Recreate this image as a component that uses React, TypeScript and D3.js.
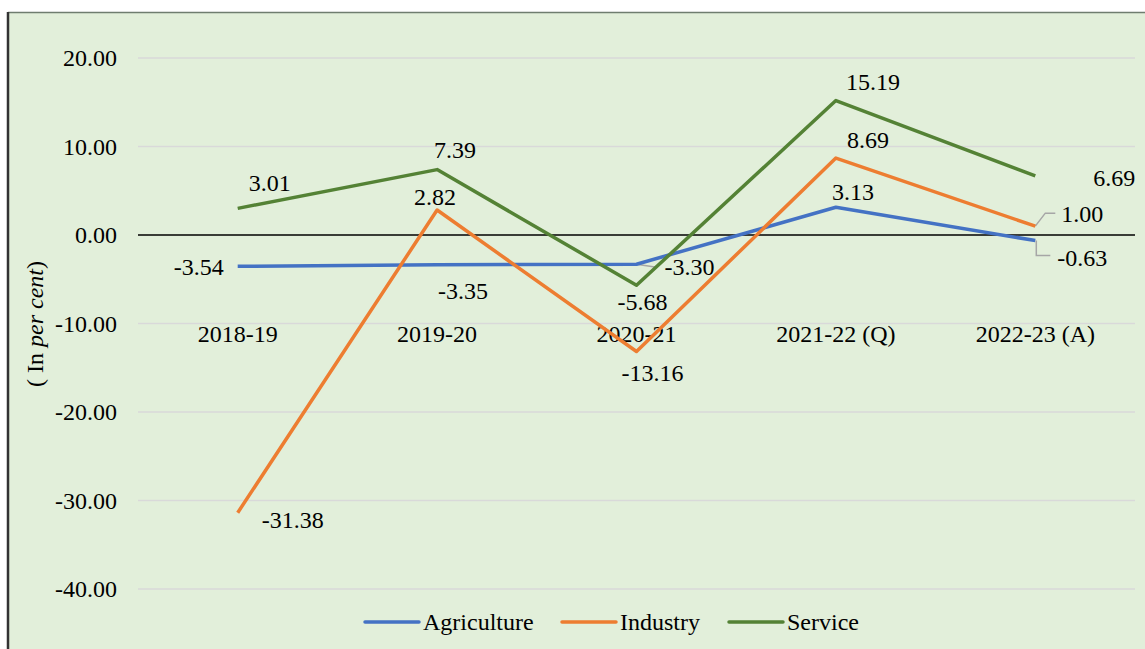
import React from "react";
import * as d3 from "d3";

const years = ["2018-19", "2019-20", "2020-21", "2021-22 (Q)", "2022-23 (A)"];
const agriculture = [-3.54, -3.35, -3.3, 3.13, -0.63];
const industry = [-31.38, 2.82, -13.16, 8.69, 1.0];
const service = [3.01, 7.39, -5.68, 15.19, 6.69];
const yTicks = [20, 10, 0, -10, -20, -30, -40];

// where each value label sits relative to its point: [dx, dy, anchor]
type Place = [number, number, string];
const agriPlace: Place[] = [
  [-14, 1, "end"],
  [26, 26, "middle"],
  [28, 3, "start"],
  [17, -15, "middle"],
  [22, 17, "start"],
];
const indPlace: Place[] = [
  [24, 7, "start"],
  [-2, -13, "middle"],
  [16, 22, "middle"],
  [32, -18, "middle"],
  [26, -12, "start"],
];
const servPlace: Place[] = [
  [32, -25, "middle"],
  [18, -20, "middle"],
  [6, 17, "middle"],
  [37, -19, "middle"],
  [58, 2, "start"],
];

const series = [
  { name: "Agriculture", values: agriculture, color: "#4472c4", place: agriPlace },
  { name: "Industry", values: industry, color: "#ed7d31", place: indPlace },
  { name: "Service", values: service, color: "#548235", place: servPlace },
];

const W = 1145;
const H = 649;
const font = "Liberation Serif";
const fs = 24;

export default function App() {
  const x = d3.scaleBand<string>().domain(years).range([138, 1135]);
  const y = d3.scaleLinear().domain([-40, 20]).range([589, 58]);
  const cx = (i: number) => (x(years[i]) as number) + x.bandwidth() / 2;

  const line = d3
    .line<number>()
    .x((_, i) => cx(i))
    .y((d) => y(d));

  // gray leader lines for the labels pulled away from their points
  const leaders: string[] = [
    `M${cx(2)},${y(agriculture[2])} L${cx(2) + 20},${y(agriculture[2]) + 3}`,
    `M${cx(4)},${y(industry[4])} L${cx(4) + 10},${y(industry[4]) - 13} L${cx(4) + 20},${y(industry[4]) - 13}`,
    `M${cx(4) + 1},${y(agriculture[4])} L${cx(4) + 1},${y(agriculture[4]) + 15} L${cx(4) + 15},${y(agriculture[4]) + 15}`,
  ];

  const legendItems = [
    { name: "Agriculture", x0: 365 },
    { name: "Industry", x0: 562 },
    { name: "Service", x0: 729 },
  ];

  return (
    <div style={{ position: "absolute", left: 0, top: 0 }}>
      <svg width={W} height={H} fontFamily={font} style={{ display: "block" }}>
        <rect x={0} y={0} width={W} height={H} fill="#ffffff" />
        <rect x={8} y={12} width={W} height={H} fill="#e2efda" />
        <line x1={8} y1={12.5} x2={W} y2={12.5} stroke="#6f7d6f" strokeWidth={1.5} />
        <line x1={8} y1={12} x2={8} y2={H} stroke="#333" strokeWidth={2.5} />

        {yTicks.map((t) => (
          <g key={t}>
            {t !== 0 && (
              <line x1={138} x2={1135} y1={y(t)} y2={y(t)} stroke="#d9d9d9" strokeWidth={1.3} />
            )}
            <text
              x={117}
              y={y(t)}
              textAnchor="end"
              dominantBaseline="central"
              fontFamily={font}
              fontSize={fs}
              fill="#000"
            >
              {t.toFixed(2)}
            </text>
          </g>
        ))}

        <line x1={138} x2={1135} y1={y(0)} y2={y(0)} stroke="#000" strokeWidth={1.5} />

        {years.map((yr, i) => (
          <text
            key={yr}
            x={cx(i)}
            y={334}
            textAnchor="middle"
            dominantBaseline="central"
            fontFamily={font}
            fontSize={fs}
          >
            {yr}
          </text>
        ))}

        <text
          transform={`translate(35,324) rotate(-90)`}
          textAnchor="middle"
          dominantBaseline="central"
          fontFamily={font}
          fontSize={fs}
        >
          ( In <tspan fontStyle="italic">per cent</tspan>)
        </text>

        {leaders.map((d, i) => (
          <path key={i} d={d} fill="none" stroke="#a6a6a6" strokeWidth={1.5} />
        ))}

        {series.map((s) => (
          <path
            key={s.name}
            d={line(s.values) as string}
            fill="none"
            stroke={s.color}
            strokeWidth={3.5}
            strokeLinejoin="round"
          />
        ))}

        {series.map((s) =>
          s.values.map((v, i) => (
            <text
              key={s.name + i}
              x={cx(i) + s.place[i][0]}
              y={y(v) + s.place[i][1]}
              textAnchor={s.place[i][2] as any}
              dominantBaseline="central"
              fontFamily={font}
              fontSize={fs}
            >
              {v.toFixed(2)}
            </text>
          ))
        )}

        {legendItems.map((l, i) => (
          <g key={l.name}>
            <line
              x1={l.x0}
              x2={l.x0 + 54}
              y1={622}
              y2={622}
              stroke={series[i].color}
              strokeWidth={3.5}
              strokeLinecap="round"
            />
            <text
              x={l.x0 + 58}
              y={622}
              dominantBaseline="central"
              fontFamily={font}
              fontSize={fs}
            >
              {l.name}
            </text>
          </g>
        ))}
      </svg>
    </div>
  );
}
